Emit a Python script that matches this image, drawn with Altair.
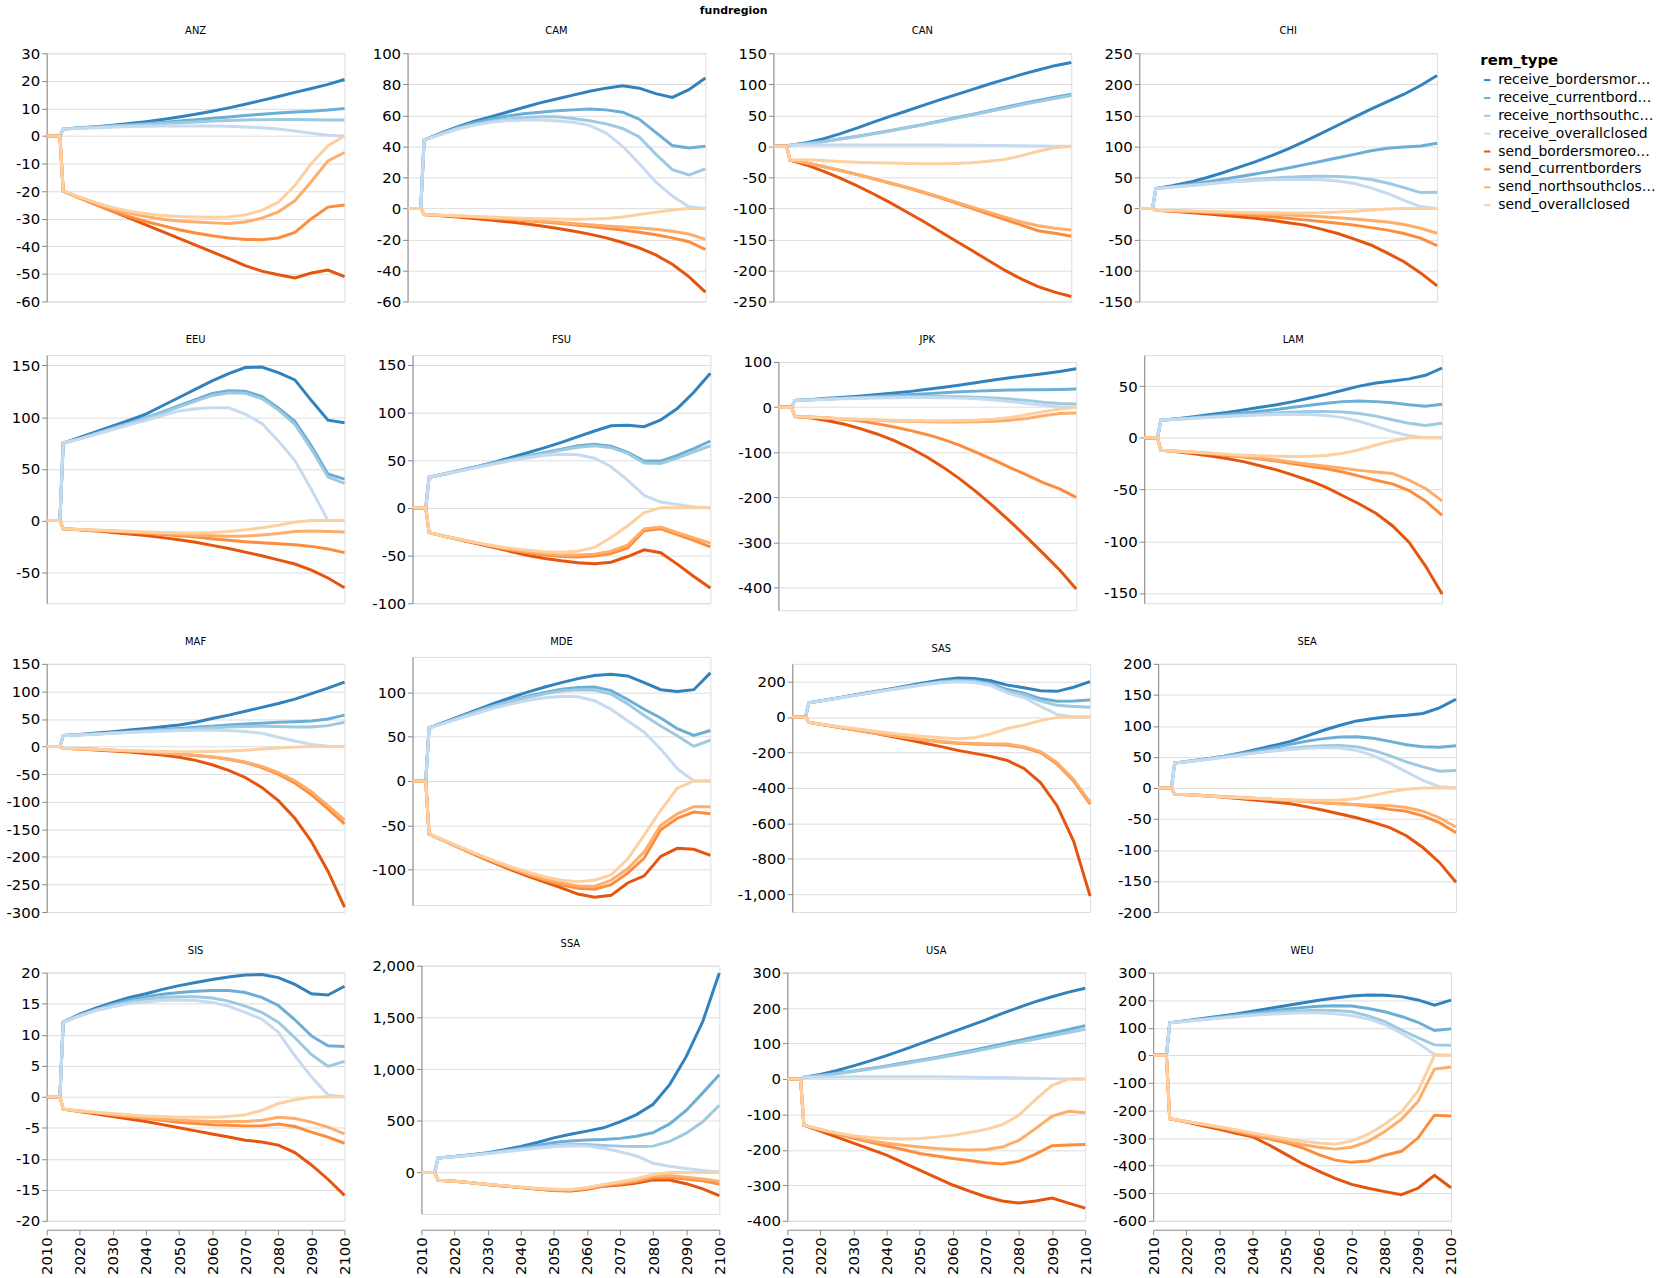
import altair as alt
import pandas as pd

REGIONS = ["ANZ", "CAM", "CAN", "CHI", "EEU", "FSU", "JPK", "LAM",
           "MAF", "MDE", "SAS", "SEA", "SIS", "SSA", "USA", "WEU"]
REM_TYPES = ["receive_bordersmoreopen", "receive_currentborders", "receive_northsouthclosed",
             "receive_overallclosed", "send_bordersmoreopen", "send_currentborders",
             "send_northsouthclosed", "send_overallclosed"]
COLORS = ["#3182bd", "#6baed6", "#9ecae1", "#c6dbef", "#e6550d", "#fd8d3c", "#fdae6b", "#fdd0a2"]
PRE_YEARS = [2010, 2014]
YEARS = [2015, 2020, 2025, 2030, 2035, 2040, 2045, 2050, 2055, 2060,
         2065, 2070, 2075, 2080, 2085, 2090, 2095, 2100]

ANZ = {
    "receive_bordersmoreopen": [2.5, 3.0, 3.4, 3.9, 4.5, 5.2, 6.0, 6.9, 7.9, 9.0, 10.2, 11.5, 12.9, 14.3, 15.8, 17.2, 18.7, 20.5],
    "receive_currentborders": [2.5, 2.9, 3.2, 3.6, 4.0, 4.4, 4.9, 5.4, 5.9, 6.4, 6.9, 7.4, 7.9, 8.3, 8.7, 9.0, 9.4, 10.0],
    "receive_northsouthclosed": [2.5, 2.9, 3.2, 3.6, 3.9, 4.2, 4.5, 4.8, 5.1, 5.4, 5.6, 5.8, 5.9, 6.0, 6.0, 5.9, 5.8, 5.8],
    "receive_overallclosed": [2.5, 2.8, 3.0, 3.2, 3.4, 3.5, 3.6, 3.6, 3.6, 3.6, 3.5, 3.3, 3.0, 2.5, 1.8, 1.0, 0.3, 0.0],
    "send_bordersmoreopen": [-20, -22.4, -24.9, -27.3, -29.8, -32.2, -34.7, -37.1, -39.6, -42, -44.5, -47, -49, -50.3, -51.5, -49.7, -48.6, -51],
    "send_currentborders": [-20, -22.5, -25, -27.3, -29.3, -31, -32.5, -34, -35.2, -36.2, -37, -37.5, -37.6, -37, -35, -30, -25.8, -25],
    "send_northsouthclosed": [-20, -22.3, -24.5, -26.5, -28, -29.2, -30.2, -30.8, -31.2, -31.5, -31.7, -31.2, -29.8, -27.5, -23.5, -16.5, -9, -6],
    "send_overallclosed": [-20, -22.2, -24.2, -26, -27.3, -28.2, -28.8, -29.2, -29.4, -29.5, -29.4, -28.6, -27, -24, -18, -10, -3.5, 0],
}
CAM = {
    "receive_bordersmoreopen": [44, 48.5, 52.5, 56, 59, 62, 65, 68, 70.5, 73, 75.5, 77.5, 79, 77.5, 74, 71.5, 76.5, 84],
    "receive_currentborders": [44, 48, 52, 55, 57.5, 59.5, 61, 62, 63, 63.5, 64, 63.5, 62, 57.5, 49, 40.5, 39, 40],
    "receive_northsouthclosed": [44, 48, 51.5, 54, 56, 57.5, 58.5, 59, 59, 58, 56.5, 54.5, 51.5, 46, 35, 25, 21.5, 25.5],
    "receive_overallclosed": [44, 47.5, 51, 53.5, 55.5, 56.5, 57, 57, 56.5, 55.5, 53.5, 48.5, 40, 29, 17, 8, 1, 0],
    "send_bordersmoreopen": [-4, -4.8, -5.6, -6.5, -7.5, -8.6, -9.8, -11.2, -12.8, -14.6, -16.6, -19, -22, -25.5, -30, -36, -44, -54],
    "send_currentborders": [-4, -4.5, -5, -5.6, -6.3, -7, -7.8, -8.6, -9.5, -10.5, -11.6, -12.8, -14, -15.4, -17, -19, -21.5, -26.5],
    "send_northsouthclosed": [-4, -4.4, -4.9, -5.4, -6, -6.7, -7.4, -8.2, -9, -9.8, -10.6, -11.4, -12, -12.6, -13.4, -14.8, -16.5, -20],
    "send_overallclosed": [-4, -4.4, -4.8, -5.2, -5.6, -6, -6.4, -6.7, -6.9, -7, -6.9, -6.5, -5.5, -4, -2.5, -1, 0, 0],
}
CAN = {
    "receive_bordersmoreopen": [2, 6, 12, 20, 29, 38.5, 48, 56.5, 65.5, 74.5, 83, 91.5, 100, 108, 116, 123, 130, 135],
    "receive_currentborders": [2, 4.5, 8, 12, 16, 20.5, 25, 30, 35, 40.5, 46, 51.5, 57, 63, 68.5, 74, 79, 84],
    "receive_northsouthclosed": [2, 4.3, 7.5, 11.5, 15.5, 20, 24.5, 29.5, 34.5, 39.5, 45, 50.5, 56, 61.5, 67, 72, 77, 82],
    "receive_overallclosed": [2, 2, 2, 2, 2, 2, 2, 2, 2, 2, 1.8, 1.6, 1.4, 1.2, 1, 0.7, 0.3, 0],
    "send_bordersmoreopen": [-22, -30, -40, -51, -63, -76, -90, -105, -120, -136, -152, -168, -184, -200, -214, -226, -235, -242],
    "send_currentborders": [-22, -27, -32.5, -38.5, -45, -52, -59, -66, -74, -82, -91, -100, -109, -118, -127, -136, -140, -145],
    "send_northsouthclosed": [-22, -27, -32.5, -38.5, -45, -51.5, -58.5, -65.5, -73, -81, -89.5, -98, -106, -114, -122, -128, -132, -135],
    "send_overallclosed": [-22, -21.5, -23, -24.5, -25.5, -26.3, -27, -27.5, -28, -28, -27.5, -26.5, -24, -21, -15, -8, -2.5, 0],
}
CHI = {
    "receive_bordersmoreopen": [32, 36.5, 42, 49, 57, 66, 75, 85, 96, 108, 121, 134, 147, 160, 172, 184, 198, 214],
    "receive_currentborders": [32, 35, 38.5, 42.5, 46.5, 51, 55.5, 60, 65, 70.5, 76, 81.5, 87, 93, 97, 99, 100.5, 105],
    "receive_northsouthclosed": [32, 34.5, 37, 39.5, 42, 44.5, 46.5, 48.5, 50, 51.5, 52, 51.5, 50, 46.5, 41, 33.5, 25.5, 26],
    "receive_overallclosed": [32, 34, 36.5, 39, 41.5, 43.5, 45, 46, 46.5, 46.5, 46, 44, 40, 33, 24, 13, 3, 0],
    "send_bordersmoreopen": [-3, -4.5, -6.5, -8.5, -11, -13.5, -16, -19, -23, -27, -33.5, -40.5, -49.5, -59, -72, -86, -104, -125],
    "send_currentborders": [-3, -4, -5, -6.5, -8, -9.5, -11.5, -13.5, -16, -18.5, -21, -24, -27, -31, -35, -40.5, -48, -60],
    "send_northsouthclosed": [-3, -3.8, -4.6, -5.5, -6.5, -7.5, -8.5, -9.5, -10.8, -12, -13.5, -15, -17, -19.5, -22, -26, -32, -40],
    "send_overallclosed": [-3, -3.5, -4, -4.8, -5.5, -6.2, -6.8, -7.2, -7.4, -7.4, -7, -6, -4.5, -2.5, -1, 0, 0, 0],
}
EEU = {
    "receive_bordersmoreopen": [75, 80.5, 86, 91.5, 97, 103, 111, 119, 127, 135, 142, 148, 148.5, 143, 136, 116, 97, 94.5],
    "receive_currentborders": [75, 79.5, 84.5, 89.5, 94.5, 99.5, 105, 111, 117, 123, 125.5, 125, 120, 109, 96, 72, 45, 40],
    "receive_northsouthclosed": [75, 79, 84, 89, 94, 99, 104, 110, 115.5, 121, 123.5, 123, 118, 107, 93, 69, 42, 36],
    "receive_overallclosed": [75, 79, 83.5, 88, 92.5, 97, 101.5, 106, 108, 109, 109, 103, 94, 77, 58, 30, 0, 0],
    "send_bordersmoreopen": [-8, -9, -10, -11.5, -13, -14.5, -16.5, -18.5, -21, -24, -27, -30.5, -34, -38, -42, -48, -55.5, -65],
    "send_currentborders": [-8, -8.8, -9.6, -10.4, -11.4, -12.4, -13.5, -14.6, -16, -17.5, -19, -20.5, -21.5, -22.5, -23.5, -25, -27.5, -31],
    "send_northsouthclosed": [-8, -8.7, -9.4, -10.2, -11, -11.8, -12.6, -13.4, -14.2, -14.8, -15.2, -15, -14, -12.5, -10.5, -10, -10.5, -11],
    "send_overallclosed": [-8, -8.6, -9.2, -9.8, -10.4, -11, -11.5, -11.8, -12, -11.5, -10.5, -9, -7, -4.5, -1.5, 0, 0, 0],
}
FSU = {
    "receive_bordersmoreopen": [32, 35.5, 39.5, 43.5, 48, 53, 58, 63, 68.5, 74.5, 80.5, 86, 86.5, 85, 92, 104, 121, 141],
    "receive_currentborders": [32, 36, 40, 43.5, 47.5, 51, 54.5, 58, 61.5, 65, 66.5, 64.5, 58, 49, 49, 55, 62, 70],
    "receive_northsouthclosed": [32, 36, 39.5, 43, 47, 50.5, 54, 57, 60.5, 63.5, 65, 63, 57, 47, 46.5, 52, 58.5, 65],
    "receive_overallclosed": [32, 35.5, 39, 42.5, 46, 49.5, 52.5, 55, 56, 55.5, 52, 43, 29, 13, 6, 3.5, 1, 0],
    "send_bordersmoreopen": [-26, -30, -34, -38, -42, -46, -50, -53, -55.5, -57.5, -58.5, -57, -51, -44, -47, -59, -72, -84],
    "send_currentborders": [-26, -30, -34, -37.5, -41, -44.5, -47, -49.5, -51, -51.5, -50.5, -48, -42, -24, -22, -28, -34, -41],
    "send_northsouthclosed": [-26, -30, -33.5, -37, -40.5, -43.5, -46, -48, -49.5, -49.5, -48.5, -45.5, -39, -22, -20, -26, -31.5, -37],
    "send_overallclosed": [-26, -30, -33.5, -37, -40, -42.5, -44.5, -46, -46.5, -45.5, -41.5, -31, -19, -5, 0, 0, 0, 0],
}
JPK = {
    "receive_bordersmoreopen": [15, 17, 19.5, 22, 25, 28, 31.5, 35, 39.5, 44, 49, 54.5, 60, 65, 69.5, 74, 79, 85],
    "receive_currentborders": [15, 16.5, 18, 20, 22, 24, 26, 28, 30, 32, 34, 35.5, 37, 38, 38.5, 38.5, 39, 40],
    "receive_northsouthclosed": [15, 16.5, 18, 19.5, 21, 22, 23, 23.5, 23.5, 23.5, 23, 22, 20.5, 18, 15, 11, 8, 7],
    "receive_overallclosed": [15, 16, 17.5, 18.5, 19.5, 20.5, 21, 21.5, 21.5, 21, 20, 18.5, 16, 12.5, 8, 4, 1, 0],
    "send_bordersmoreopen": [-21, -24, -30, -38, -48, -60, -74, -91, -111, -134, -160, -189, -220, -253, -288, -324, -361, -403],
    "send_currentborders": [-21, -22, -24, -27, -31, -37, -44, -52, -61, -72, -85, -101, -117, -134, -150, -167, -181, -200],
    "send_northsouthclosed": [-21, -22.5, -24, -26, -27.5, -29, -30.5, -31.5, -32.5, -33, -33, -32.5, -31, -29, -25, -19, -14, -13],
    "send_overallclosed": [-21, -22.5, -24, -25.5, -27, -28, -29, -29.5, -30, -30, -29.5, -28.5, -26.5, -23, -17, -10, -4, 0],
}
LAM = {
    "receive_bordersmoreopen": [17, 18.5, 20.5, 22.5, 24.5, 27, 29.5, 32, 35, 38.5, 42, 46, 50, 53, 55, 57, 60.5, 67.5],
    "receive_currentborders": [17, 18.3, 19.6, 21, 22.5, 24, 25.6, 27.4, 29.5, 31.5, 33.5, 35, 35.5, 35, 34, 32, 30.5, 32.5],
    "receive_northsouthclosed": [17, 18, 19, 20, 21, 22, 23, 24, 25, 25.5, 25.5, 25, 23.5, 21, 17.5, 14, 12, 14],
    "receive_overallclosed": [17, 18, 19, 19.8, 20.6, 21.4, 22, 22.5, 22.7, 22.5, 21.5, 19.5, 16, 11, 6, 2, 0, 0],
    "send_bordersmoreopen": [-12, -13.5, -15.5, -17.5, -20, -23, -27, -31, -36, -41.5, -48, -56, -64, -73, -85, -101, -124, -151],
    "send_currentborders": [-12, -13, -14, -15.5, -17, -18.5, -20.5, -22.5, -25, -27.5, -30, -33, -37, -41, -44.5, -51, -61, -75],
    "send_northsouthclosed": [-12, -13, -14, -15, -16.5, -18, -19.5, -21.5, -23.5, -25.5, -27.5, -29.5, -31.5, -33, -34.5, -41, -49, -61],
    "send_overallclosed": [-12, -13, -14, -15, -16, -16.8, -17.4, -17.8, -18, -17.8, -17, -15, -11.5, -7, -3, 0, 0, 0],
}
MAF = {
    "receive_bordersmoreopen": [20, 22, 24.5, 27, 30, 33, 36, 39, 44, 51, 57, 64, 71, 78, 86, 96, 106, 117],
    "receive_currentborders": [20, 21.5, 23, 25, 27, 29, 31, 33, 35, 37, 39, 41, 42.5, 44, 45, 46.5, 50, 57],
    "receive_northsouthclosed": [20, 21.5, 23, 24.5, 26, 28, 29.5, 31, 32.5, 34, 35.5, 36.5, 37, 36.5, 35.5, 35.5, 38, 44],
    "receive_overallclosed": [20, 21, 22.5, 24, 25.5, 27, 28, 29, 29.5, 29.5, 29, 27.5, 24, 17, 10, 4, 0.5, 0],
    "send_bordersmoreopen": [-3, -4.5, -6, -8, -10, -12.5, -15.5, -19.5, -25, -33, -43, -56, -74, -98, -130, -172, -226, -291],
    "send_currentborders": [-3, -4, -5, -6.5, -8, -9.5, -11.5, -13.5, -16, -19, -23, -29, -38, -50, -66, -87, -113, -140],
    "send_northsouthclosed": [-3, -4, -5, -6.5, -8, -9.5, -11.5, -13.5, -16, -19, -22.5, -28, -36, -47, -62, -82, -107, -133],
    "send_overallclosed": [-3, -4, -5, -6, -7, -8, -9, -9.5, -9.5, -9, -8, -6.5, -4.5, -2.5, -1, 0, 0, 0],
}
MDE = {
    "receive_bordersmoreopen": [60, 67, 74, 81, 88, 94.5, 100.5, 106, 111, 115.5, 119, 120.5, 118.5, 111, 103, 101, 103, 122],
    "receive_currentborders": [60, 66.5, 73, 79.5, 85.5, 91, 96, 100, 103.5, 105.5, 106, 102, 92, 81, 71, 59, 51.5, 57],
    "receive_northsouthclosed": [60, 66, 72.5, 79, 85, 90, 94.5, 98.5, 101.5, 103, 102.5, 98, 87, 74, 62, 51, 39, 46],
    "receive_overallclosed": [60, 65.5, 71.5, 77, 82.5, 87, 91, 94, 95.5, 95, 90.5, 81, 68, 55, 36, 14, 0, 0],
    "send_bordersmoreopen": [-60, -68, -76.5, -85, -93, -100.5, -107.5, -114, -120.5, -127.5, -131, -129, -115, -107, -85, -76, -77, -84],
    "send_currentborders": [-60, -68, -76.5, -84.5, -92, -99, -106, -112, -117, -121, -122, -117, -104, -87, -55, -42, -35, -37],
    "send_northsouthclosed": [-60, -68, -76, -84, -91.5, -98.5, -105, -110.5, -115, -118.5, -119, -112, -99, -80, -50, -37, -29, -29],
    "send_overallclosed": [-60, -67.5, -75.5, -83, -90.5, -97, -103, -108, -112, -113.5, -112, -106, -88, -61, -33, -8, 0, 0],
}
SAS = {
    "receive_bordersmoreopen": [80, 96, 112, 128, 144, 160, 176, 193, 209, 220, 218, 205, 180, 165, 148, 145, 168, 200],
    "receive_currentborders": [80, 95.5, 111, 126.5, 142, 157, 172, 187, 200, 208, 205, 190, 155, 135, 104, 89, 90, 96],
    "receive_northsouthclosed": [80, 95, 110.5, 126, 141, 156, 171, 185.5, 197, 203, 200, 184, 145, 124, 90, 66, 60, 55],
    "receive_overallclosed": [80, 95, 110, 125, 140, 154, 168, 182, 193, 199, 195, 177, 135, 110, 60, 15, 0, 0],
    "send_bordersmoreopen": [-30, -45, -60, -76, -92, -110, -128, -148, -167, -188, -205, -222, -245, -290, -370, -500, -700, -1010],
    "send_currentborders": [-30, -45, -60, -75, -90, -105, -118, -130, -141, -148, -152, -155, -158, -172, -200, -265, -360, -491],
    "send_northsouthclosed": [-30, -45, -60, -75, -90, -104, -117, -128, -138, -145, -149, -152, -152, -168, -195, -258, -352, -482],
    "send_overallclosed": [-30, -43, -56, -68, -80, -91, -101, -110, -117, -122, -117, -95, -65, -45, -20, -2, 0, 0],
}
SEA = {
    "receive_bordersmoreopen": [40, 43.5, 47, 51, 56.5, 62.5, 68.5, 75, 84, 93, 101, 108, 112, 115, 117, 120, 129, 143],
    "receive_currentborders": [40, 43.5, 47, 51, 55.5, 60, 65, 70.5, 75.5, 79.5, 82, 82.5, 80, 75, 69.5, 66.5, 65.5, 68],
    "receive_northsouthclosed": [40, 43, 46.5, 50, 54, 57.5, 61, 64, 66.5, 68, 68.5, 66.5, 60.5, 52, 42, 34, 27, 28],
    "receive_overallclosed": [40, 43, 46, 49.5, 53, 56.5, 59.5, 62, 64, 65, 64.5, 60.5, 52, 40, 26, 12, 2, 0],
    "send_bordersmoreopen": [-10, -11.5, -13, -15, -17.5, -20, -22.5, -25.5, -30.5, -36, -42, -48, -55.5, -64, -77, -96, -120, -152],
    "send_currentborders": [-10, -11, -12.5, -14, -15.5, -17, -18.5, -20, -22, -24, -25.5, -27, -30.5, -34.5, -37.5, -45, -56, -72],
    "send_northsouthclosed": [-10, -11, -12.5, -14, -15.5, -17, -18.5, -20, -22, -24, -25.5, -27, -28, -28.5, -31.5, -37.5, -48, -63],
    "send_overallclosed": [-10, -11.5, -13, -14.5, -15.8, -17, -18, -19, -19.7, -20, -19.5, -17, -12, -6, -2, 0, 0, 0],
}
SIS = {
    "receive_bordersmoreopen": [12, 13.3, 14.3, 15.2, 16, 16.6, 17.3, 17.9, 18.4, 18.9, 19.3, 19.6, 19.7, 19.2, 18.1, 16.6, 16.4, 17.8],
    "receive_currentborders": [12, 13.2, 14.1, 14.9, 15.6, 16.1, 16.5, 16.8, 17, 17.1, 17.1, 16.8, 16, 14.7, 12.4, 9.8, 8.2, 8.1],
    "receive_northsouthclosed": [12, 13.1, 14, 14.7, 15.3, 15.7, 16, 16.1, 16.1, 15.9, 15.4, 14.6, 13.6, 12, 9.5, 6.8, 4.9, 5.7],
    "receive_overallclosed": [12, 13, 13.9, 14.5, 15, 15.3, 15.5, 15.6, 15.5, 15.2, 14.6, 13.6, 12.5, 10.4, 6.6, 3.2, 0.3, 0],
    "send_bordersmoreopen": [-2, -2.4, -2.8, -3.2, -3.6, -4, -4.5, -5, -5.5, -6, -6.5, -7, -7.3, -7.8, -9, -11, -13.3, -15.9],
    "send_currentborders": [-2, -2.3, -2.6, -2.9, -3.2, -3.5, -3.8, -4.1, -4.3, -4.5, -4.6, -4.7, -4.7, -4.4, -4.8, -5.7, -6.5, -7.5],
    "send_northsouthclosed": [-2, -2.3, -2.6, -2.9, -3.2, -3.4, -3.6, -3.8, -3.9, -4, -4, -4, -3.8, -3.3, -3.5, -4.1, -4.9, -6],
    "send_overallclosed": [-2, -2.3, -2.5, -2.7, -2.9, -3.1, -3.2, -3.3, -3.3, -3.3, -3.2, -2.9, -2.2, -1.1, -0.5, -0.1, 0, 0],
}
SSA = {
    "receive_bordersmoreopen": [140, 155, 172, 192, 220, 253, 290, 335, 370, 400, 432, 490, 560, 660, 850, 1120, 1460, 1930],
    "receive_currentborders": [140, 154, 170, 188, 210, 235, 262, 290, 305, 315, 320, 330, 350, 385, 470, 600, 770, 945],
    "receive_northsouthclosed": [140, 153, 168, 185, 205, 225, 245, 262, 270, 270, 262, 255, 252, 255, 300, 380, 490, 650],
    "receive_overallclosed": [140, 152, 166, 182, 200, 218, 235, 250, 258, 255, 235, 200, 160, 90, 60, 38, 20, 5],
    "send_bordersmoreopen": [-75, -85, -100, -115, -130, -145, -160, -175, -180, -162, -132, -122, -102, -70, -72, -108, -158, -224],
    "send_currentborders": [-75, -85, -100, -115, -130, -145, -160, -172, -175, -158, -128, -112, -88, -52, -48, -62, -80, -112],
    "send_northsouthclosed": [-75, -85, -100, -115, -130, -145, -158, -168, -170, -150, -120, -100, -75, -35, -30, -45, -62, -86],
    "send_overallclosed": [-75, -85, -99, -113, -127, -140, -152, -162, -165, -148, -115, -90, -60, -20, 0, 0, 0, 0],
}
USA = {
    "receive_bordersmoreopen": [5, 13, 24, 37, 51, 66, 82, 99, 116, 133, 150, 167, 185, 202, 218, 232, 245, 256],
    "receive_currentborders": [5, 10, 16, 22.5, 29.5, 37, 45, 53, 61, 70, 79, 89, 99, 109, 119, 129, 139.5, 150],
    "receive_northsouthclosed": [5, 9.5, 15, 21, 28, 35, 42.5, 50.5, 58.5, 67, 75.5, 84.5, 94, 103.5, 113, 122, 131, 140],
    "receive_overallclosed": [5, 5, 5.5, 6, 6, 6, 6, 6, 6, 5.5, 5, 4.5, 4, 3, 2, 1, 0, 0],
    "send_bordersmoreopen": [-130, -147, -164, -181, -198, -215, -236, -257, -278, -299, -316, -332, -344, -350, -344, -336, -350, -364],
    "send_currentborders": [-130, -143, -155, -167, -178, -189, -199, -210, -217, -224, -230, -236, -240, -232, -212, -188, -186, -185],
    "send_northsouthclosed": [-130, -142, -153, -164, -174, -181, -187, -192, -196, -199, -200, -199, -192, -173, -140, -105, -91, -95],
    "send_overallclosed": [-130, -142, -152, -160, -165, -168, -169, -168, -164, -159, -151, -142, -129, -102, -58, -18, 0, 0],
}
WEU = {
    "receive_bordersmoreopen": [118, 126, 134, 142, 150, 160, 170, 180, 190, 200, 208, 215, 219, 218, 213, 201, 182, 200],
    "receive_currentborders": [118, 125, 132, 139, 146, 153, 160, 167, 173, 178, 180, 179, 170, 158, 141, 120, 90, 96],
    "receive_northsouthclosed": [118, 124, 130, 136, 142, 148, 154, 159, 162, 164, 163, 158, 143, 122, 92, 64, 38, 37],
    "receive_overallclosed": [118, 123.5, 129, 134.5, 140, 145, 149, 152, 154, 154, 151, 144, 132, 112, 80, 45, 3, 0],
    "send_bordersmoreopen": [-230, -242, -255, -268, -283, -295, -325, -358, -392, -420, -446, -468, -482, -494, -505, -482, -435, -480],
    "send_currentborders": [-230, -240, -251, -263, -276, -290, -303, -316, -335, -360, -380, -388, -383, -362, -348, -300, -217, -220],
    "send_northsouthclosed": [-230, -240, -250, -261, -273, -285, -298, -311, -323, -333, -340, -333, -312, -276, -232, -168, -50, -42],
    "send_overallclosed": [-230, -240, -249, -259, -270, -281, -292, -302, -311, -318, -322, -310, -286, -250, -205, -130, 0, 0],
}

DATA = {"ANZ": ANZ, "CAM": CAM, "CAN": CAN, "CHI": CHI, "EEU": EEU, "FSU": FSU,
        "JPK": JPK, "LAM": LAM, "MAF": MAF, "MDE": MDE, "SAS": SAS, "SEA": SEA,
        "SIS": SIS, "SSA": SSA, "USA": USA, "WEU": WEU}

rows = []
for reg in REGIONS:
    for rt in REM_TYPES:
        for yr in PRE_YEARS:
            rows.append({"fundregion": reg, "rem_type": rt, "year": yr, "value": 0.0})
        for yr, v in zip(YEARS, DATA[reg][rt]):
            rows.append({"fundregion": reg, "rem_type": rt, "year": yr, "value": v})
df = pd.DataFrame(rows)

base = alt.Chart(df).mark_line(strokeWidth=3).encode(
    x=alt.X("year:Q",
            scale=alt.Scale(domain=[2010, 2100], zero=False, nice=False),
            axis=alt.Axis(format="d", labelAngle=270, grid=False, title=None, labelFontSize=15)),
    y=alt.Y("value:Q",
            axis=alt.Axis(title=None, labelFontSize=15,
                          labelExpr="replace(datum.label, '\u2212', '-')")),
    color=alt.Color("rem_type:N",
                    scale=alt.Scale(domain=REM_TYPES, range=COLORS),
                    legend=alt.Legend(title="rem_type", titleFontSize=15, labelFontSize=14,
                                      symbolType="stroke", symbolSize=40, symbolStrokeWidth=2,
                                      rowPadding=4)),
).properties(width=300, height=250)

chart = base.facet(
    facet=alt.Facet("fundregion:N", title="fundregion", sort=REGIONS),
    columns=4,
    spacing={"row": 24, "column": 19.5},
).resolve_scale(y="independent").properties(
    padding={"left": 5, "top": 0, "right": 5, "bottom": 5}
).configure(font="DejaVu Sans")

chart.save("out.html", embed_options={"renderer": "svg", "actions": False})
